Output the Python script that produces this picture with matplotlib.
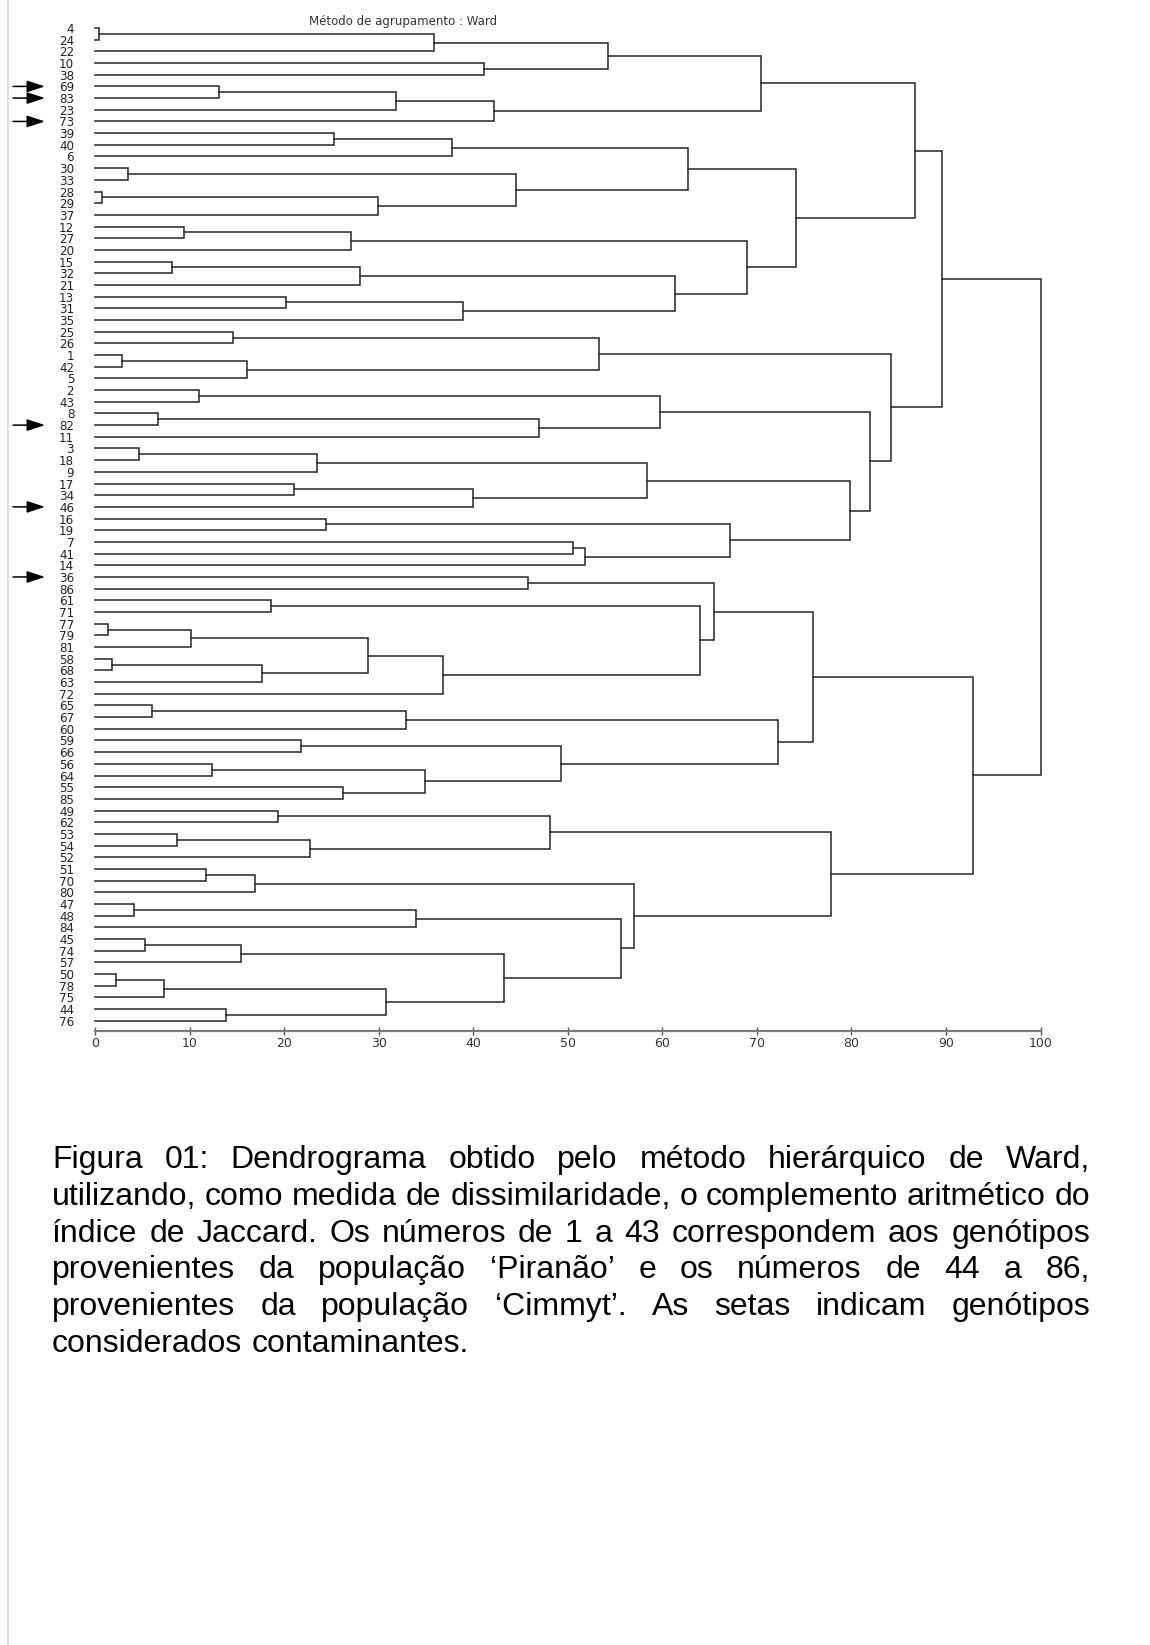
import numpy as np
import matplotlib
matplotlib.use('Agg')
import matplotlib.pyplot as plt
import matplotlib.transforms as mtransforms

W, H = 1150, 1645

# leaf order, top to bottom
leaves = ['4', '24', '22', '10', '38', '69', '83', '23', '73', '39',
          '40', '6', '30', '33', '28', '29', '37', '12', '27', '20',
          '15', '32', '21', '13', '31', '35', '25', '26', '1', '42',
          '5', '2', '43', '8', '82', '11', '3', '18', '9', '17',
          '34', '46', '16', '19', '7', '41', '14', '36', '86', '61',
          '71', '77', '79', '81', '58', '68', '63', '72', '65', '67',
          '60', '59', '66', '56', '64', '55', '85', '49', '62', '53',
          '54', '52', '51', '70', '80', '47', '48', '84', '45', '74',
          '57', '50', '78', '75', '44', '76']

# genotypes marked with arrows
contaminants = ['69', '83', '73', '82', '46', '36']

# merges: children are leaf labels or 'mN' (earlier merge N)
merge_left = ['4', 'm0', '10', 'm1', '69', 'm4', 'm5', 'm3',
              '39', 'm8', '30', '28', 'm11', 'm10', 'm9', '12', 'm15', '15', 'm17', '13', 'm19',
              'm18', 'm16', 'm14', 'm7',
              '25', '1', 'm26', 'm25', '2', '8', 'm30', 'm29', '3', 'm33', '17', 'm35', 'm34',
              '16', '7', 'm39', 'm38', 'm37', 'm32', 'm28', 'm24',
              '36', '61', '77', 'm48', '58', 'm50', 'm49', 'm52', 'm47', 'm46',
              '65', 'm56', '59', '56', '55', 'm59', 'm58', 'm57', 'm55',
              '49', '53', 'm66', 'm65', '51', 'm69', '47', 'm71', '45', 'm73', '50', 'm75', '44',
              'm76', 'm74', 'm72', 'm70', 'm68', 'm64', 'm45']
merge_right = ['24', '22', '38', 'm2', '83', '23', '73', 'm6',
               '40', '6', '33', '29', '37', 'm12', 'm13', '27', '20', '32', '21', '31', '35',
               'm20', 'm21', 'm22', 'm23',
               '26', '42', '5', 'm27', '43', '82', '11', 'm31', '18', '9', '34', '46', 'm36',
               '19', '41', '14', 'm40', 'm41', 'm42', 'm43', 'm44',
               '86', '71', '79', '81', '68', '63', 'm51', '72', 'm53', 'm54',
               '67', '60', '66', '64', '85', 'm60', 'm61', 'm62', 'm63',
               '62', '54', '52', 'm67', '70', '80', '48', '84', '74', '57', '78', '75', '76',
               'm77', 'm78', 'm79', 'm80', 'm81', 'm82', 'm83']
merge_height = [0.4, 35.8, 41.1, 54.2, 13.1, 31.8, 42.2, 70.4,
                25.3, 37.8, 3.5, 0.7, 29.9, 44.5, 62.7, 9.45, 27.1, 8.1, 28.0, 20.2, 38.9,
                61.3, 68.9, 74.1, 86.7,
                14.6, 2.9, 16.1, 53.3, 11.0, 6.7, 47.0, 59.7, 4.7, 23.5, 21.0, 40.0, 58.4,
                24.4, 50.5, 51.8, 67.2, 79.8, 82.0, 84.2, 89.6,
                45.8, 18.6, 1.4, 10.2, 1.8, 17.7, 28.9, 36.8, 64.0, 65.5,
                6.0, 32.9, 21.8, 12.4, 26.2, 34.9, 49.3, 72.2, 75.9,
                19.4, 8.7, 22.7, 48.1, 11.7, 16.9, 4.1, 33.9, 5.3, 15.4, 2.25, 7.3, 13.9,
                30.8, 43.3, 55.6, 57.0, 77.8, 92.8, 100.0]

xticks = list(range(0, 101, 10))

title = 'Método de agrupamento : Ward'
caption_lines = [
    'Figura 01: Dendrograma obtido pelo método hierárquico de Ward,',
    'utilizando, como medida de dissimilaridade, o complemento aritmético do',
    'índice de Jaccard. Os números de 1 a 43 correspondem aos genótipos',
    'provenientes da população ‘Piranão’ e os números de 44 a 86,',
    'provenientes da população ‘Cimmyt’. As setas indicam genótipos',
    'considerados contaminantes.',
]

# layout in pixels
x0_px, x100_px = 95.0, 1040.6
leaf0_px, leaf_step = 28.0, 11.68
axis_px = 1031.0
top_px = leaf0_px - 1.5 * leaf_step

fig = plt.figure(figsize=(W / 100, H / 100), dpi=100)
fig.patch.set_facecolor('white')

ax = fig.add_axes([x0_px / W, 1 - axis_px / H, (x100_px - x0_px) / W, (axis_px - top_px) / H])
ax.set_xlim(0, 100)
ax.set_ylim((axis_px - leaf0_px) / leaf_step, -1.5)

# draw the tree
pos = {lab: (0.0, float(i)) for i, lab in enumerate(leaves)}
for k, (a, b, h) in enumerate(zip(merge_left, merge_right, merge_height)):
    ha, ya = pos[a]
    hb, yb = pos[b]
    ax.plot([ha, h, h, hb], [ya, ya, yb, yb], color='#262626', lw=1.1,
            solid_joinstyle='miter', clip_on=False)
    pos['m%d' % k] = (h, (ya + yb) / 2.0)

for s in ['top', 'right', 'left']:
    ax.spines[s].set_visible(False)
ax.spines['bottom'].set_color('#7a7a7a')
ax.spines['bottom'].set_linewidth(1.6)

ax.set_xticks(xticks)
ax.set_xticklabels([str(t) for t in xticks])
ax.tick_params(axis='x', direction='inout', length=6, width=1.0, color='#555555',
               labelsize=9, labelcolor='#333333', pad=1)
ax.set_yticks(range(len(leaves)))
ax.set_yticklabels(leaves)
ax.tick_params(axis='y', length=0, pad=15, labelsize=8.6, labelcolor='#222222')
for lbl in ax.get_yticklabels() + ax.get_xticklabels():
    lbl.set_family('DejaVu Sans')

# arrows for contaminant genotypes
trans = mtransforms.blended_transform_factory(fig.transFigure, ax.transData)
for lab in contaminants:
    i = leaves.index(lab)
    ax.annotate('', xy=(45 / W, i), xytext=(13 / W, i), xycoords=trans, textcoords=trans,
                arrowprops=dict(arrowstyle='-|>,head_length=1.1,head_width=0.36',
                                color='black', lw=1.1, shrinkA=0, shrinkB=0,
                                mutation_scale=10))

fig.text(403 / W, 1 - 21 / H, title, ha='center', va='center', fontsize=8.5,
         family='DejaVu Sans', color='#333333')

# thin gray frame line at the left edge
fig.add_artist(plt.Line2D([8 / W, 8 / W], [0, 1], transform=fig.transFigure,
                          color='#d6d6d6', lw=1.2))

# justified caption
renderer = fig.canvas.get_renderer()
cap_left, cap_right = 52.0, 1090.0
cap_base0, cap_step = 1168.0, 36.8
cap_size = 23
for k, line in enumerate(caption_lines):
    words = line.split(' ')
    yf = 1 - (cap_base0 + k * cap_step) / H
    texts = [fig.text(0, yf, w, fontsize=cap_size, family='Liberation Sans',
                      va='baseline', ha='left', color='black') for w in words]
    widths = [t.get_window_extent(renderer).width for t in texts]
    if k < len(caption_lines) - 1 and len(words) > 1:
        gap = (cap_right - cap_left - sum(widths)) / (len(words) - 1)
    else:
        gap = 0.278 * cap_size * 100 / 72
    x = cap_left
    for t, wd in zip(texts, widths):
        t.set_x(x / W)
        x += wd + gap

fig.savefig('out.png', dpi=100, facecolor='white')
